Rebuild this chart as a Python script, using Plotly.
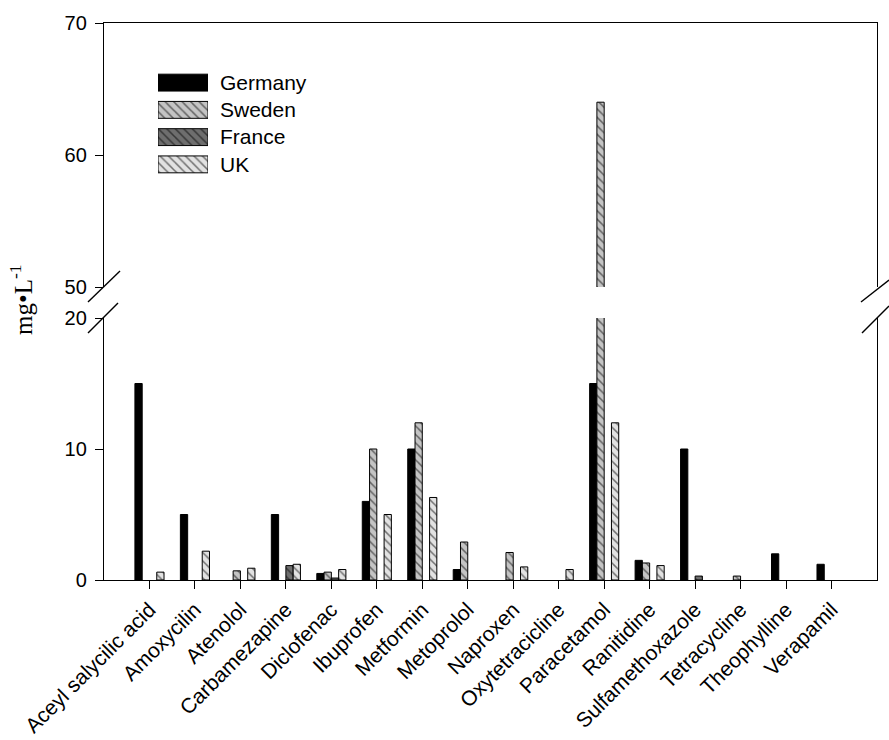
import plotly.graph_objects as go

# ---- data -------------------------------------------------------------
compounds = ["Aceyl salycilic acid", "Amoxycilin", "Atenolol", "Carbamezapine",
             "Diclofenac", "Ibuprofen", "Metformin", "Metoprolol", "Naproxen",
             "Oxytetracicline", "Paracetamol", "Ranitidine", "Sulfamethoxazole",
             "Tetracycline", "Theophylline", "Verapamil"]

germany = [15, 5, None, 5, 0.5, 6, 10, 0.8, None, None, 15, 1.5, 10, None, 2, 1.2]
sweden = [None, None, 0.7, None, 0.6, 10, 12, 2.9, 2.1, None, 64, 1.3, None, 0.3, None, None]
france = [None, None, None, 1.1, 0.15, None, None, None, None, None, None, None, 0.3, None, None, None]
uk = [0.6, 2.2, 0.9, 1.2, 0.8, 5, 6.3, None, 1.0, 0.8, 12, 1.1, None, None, None, None]

countries = ["Germany", "Sweden", "France", "UK"]
series = [germany, sweden, france, uk]

lower_ticks = [0, 10, 20]
upper_ticks = [50, 60, 70]

# ---- styling ----------------------------------------------------------
W, H = 889, 740
PL, PR, PT, PB = 104, 877, 23, 580
SANS = "Liberation Sans, Arial, Helvetica, sans-serif"
SERIF = "Liberation Serif, Times New Roman, serif"

styles = {
    "Germany": dict(color="black", pattern=None),
    "Sweden": dict(color="#c4c4c4", pattern=dict(shape="\\", bgcolor="#c4c4c4", fgcolor="black",
                                                 size=6, solidity=0.25)),
    "France": dict(color="#6e6e6e", pattern=dict(shape="\\", bgcolor="#6e6e6e", fgcolor="black",
                                                 size=6, solidity=0.25)),
    "UK": dict(color="#e2e2e2", pattern=dict(shape="\\", bgcolor="#e2e2e2", fgcolor="black",
                                             size=6, solidity=0.25)),
}


def px_x(x):
    return (x - PL) / (PR - PL)


def px_y(y):
    return (PB - y) / (PB - PT)


def marker_for(name):
    st = styles[name]
    m = dict(color=st["color"], line=dict(color="black", width=1))
    if st["pattern"]:
        m["pattern"] = st["pattern"]
    return m


fig = go.Figure()

# bars on the lower (0-20) and upper (50-70) segments of the broken axis
for name, vals in zip(countries, series):
    for xa, ya in (("x", "y"), ("x2", "y2")):
        fig.add_trace(go.Bar(x=compounds, y=vals, name=name, xaxis=xa, yaxis=ya,
                             marker=marker_for(name), showlegend=False))

# legend swatches as horizontal bars on a small dedicated axis
swatch_len = [1, 1, 1, 1]
for name, v in zip(countries, swatch_len):
    fig.add_trace(go.Bar(x=[v], y=[name], orientation="h", xaxis="x3", yaxis="y3",
                         marker=marker_for(name), showlegend=False, width=0.62))

y_low_top = px_y(318)
y_up_bot = px_y(287)

tickfont = dict(family=SANS, size=20, color="black")

fig.update_layout(
    width=W, height=H,
    margin=dict(l=PL, r=W - PR, t=PT, b=H - PB, pad=0, autoexpand=False),
    paper_bgcolor="white", plot_bgcolor="white",
    barmode="group", bargap=0.36, bargroupgap=0,
    showlegend=False,
    xaxis=dict(domain=[0, 1], anchor="y", range=[-1, 16], type="category",
               categoryorder="array", categoryarray=compounds, automargin=False,
               showline=True, linecolor="black", linewidth=1.3,
               ticks="outside", ticklen=8, tickwidth=1.3, tickcolor="black",
               tickangle=-45, tickfont=dict(family=SANS, size=21, color="black"),
               showgrid=False, zeroline=False),
    yaxis=dict(domain=[0, y_low_top], anchor="x", range=[0, 20], automargin=False,
               tickvals=lower_ticks, ticks="outside", ticklen=8, tickwidth=1.3,
               tickcolor="black", tickfont=tickfont, ticklabelstandoff=4,
               showline=True, mirror=True, linecolor="black", linewidth=1.3,
               showgrid=False, zeroline=False),
    xaxis2=dict(domain=[0, 1], anchor="y2", matches="x", type="category",
                side="top", showline=True, linecolor="black", linewidth=1.3,
                automargin=False,
                showticklabels=False, ticks="", showgrid=False, zeroline=False),
    yaxis2=dict(domain=[y_up_bot, 1], anchor="x2", range=[50, 70], automargin=False,
                tickvals=upper_ticks, ticks="outside", ticklen=8, tickwidth=1.3,
                tickcolor="black", tickfont=tickfont, ticklabelstandoff=4,
                showline=True, mirror=True, linecolor="black", linewidth=1.3,
                showgrid=False, zeroline=False),
    xaxis3=dict(domain=[px_x(158), px_x(208)], anchor="y3", range=[0, 1],
                visible=False, fixedrange=True, automargin=False),
    yaxis3=dict(domain=[px_y(178), px_y(69)], anchor="x3", type="category",
                autorange="reversed", side="right", showline=False, ticks="",
                automargin=False,
                showgrid=False, zeroline=False, ticklabelstandoff=11,
                tickfont=dict(family=SANS, size=21, color="black")),
    font=dict(family=SANS, color="black"),
)

# y axis title
fig.add_annotation(text="mg•L<sup>-1</sup>", xref="paper", yref="paper",
                   x=px_x(21), y=px_y(300), textangle=-90, showarrow=False,
                   font=dict(family=SERIF, size=25, color="black"),
                   xanchor="center", yanchor="middle")

# axis-break marks on both sides
breaks = [((88, 302), (120, 271)), ((88, 333), (118, 303)),
          ((861, 302), (889, 280)), ((862, 333), (889, 306))]
for (x0, y0), (x1, y1) in breaks:
    fig.add_shape(type="line", xref="paper", yref="paper",
                  x0=px_x(x0), y0=px_y(y0), x1=px_x(x1), y1=px_y(y1),
                  line=dict(color="black", width=1.4))

fig.write_html("out.html")
